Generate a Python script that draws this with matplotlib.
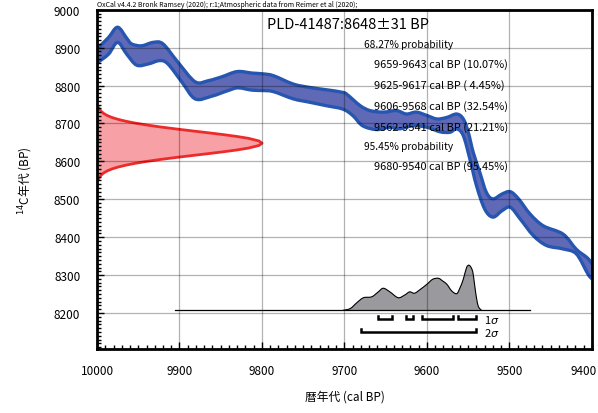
import numpy as np
import matplotlib
matplotlib.use('Agg')
import matplotlib.pyplot as plt
from matplotlib.ticker import MultipleLocator
from matplotlib.path import Path
from matplotlib.patches import PathPatch
from matplotlib.transforms import ScaledTranslation

plt.rcParams['font.family'] = ['Noto Sans CJK JP', 'DejaVu Sans']

# calibration curve (IntCal20), upper and lower edges of the band
up_yr = [10000, 9998, 9986, 9975, 9964, 9958, 9946, 9932, 9920, 9902,
         9881, 9865, 9849, 9830, 9812, 9799, 9786, 9762, 9742, 9722,
         9702, 9696, 9681, 9669, 9653, 9637, 9625, 9613, 9600, 9588,
         9576, 9564, 9556, 9550, 9544, 9536, 9528, 9520, 9509, 9499,
         9489, 9475, 9459, 9435, 9419, 9406, 9400]
up_c14 = [8897, 8901, 8927, 8954, 8925, 8910, 8905, 8914, 8910, 8862,
          8810, 8813, 8823, 8837, 8833, 8831, 8826, 8804, 8795, 8789,
          8782, 8775, 8747, 8734, 8730, 8734, 8725, 8730, 8721, 8712,
          8716, 8725, 8712, 8677, 8624, 8571, 8518, 8501, 8514, 8520,
          8501, 8461, 8430, 8408, 8368, 8346, 8330]
lo_yr = [10000, 9999, 9986, 9975, 9964, 9952, 9938, 9924, 9914, 9897,
         9881, 9861, 9841, 9829, 9812, 9799, 9786, 9762, 9742, 9722,
         9702, 9690, 9678, 9661, 9645, 9633, 9617, 9600, 9584, 9572,
         9564, 9556, 9548, 9540, 9530, 9520, 9509, 9499, 9487, 9471,
         9455, 9435, 9419, 9405, 9400]
lo_c14 = [8858, 8861, 8883, 8914, 8883, 8854, 8857, 8866, 8857, 8809,
          8765, 8772, 8787, 8794, 8788, 8787, 8784, 8765, 8756, 8747,
          8738, 8721, 8694, 8684, 8690, 8686, 8694, 8690, 8678, 8677,
          8686, 8668, 8606, 8536, 8474, 8453, 8470, 8479, 8448, 8404,
          8378, 8369, 8356, 8303, 8290]

# measured 14C age distribution (8648 +- 31 BP), width in cal years
gauss_c14 = [8555, 8560, 8565, 8570, 8575, 8580, 8585, 8590, 8595, 8600,
             8605, 8610, 8615, 8620, 8625, 8630, 8635, 8642, 8648, 8654,
             8661, 8666, 8671, 8676, 8681, 8686, 8691, 8696, 8701, 8706,
             8711, 8716, 8721, 8726, 8731, 8736, 8741]
gauss_w = [2.2, 3.6, 5.6, 8.4, 12.5, 18.0, 25.4, 34.8, 46.4, 60.3,
           76.4, 94.4, 113.4, 133, 151.9, 169, 183.2, 196.3, 200, 196.3,
           183.2, 169, 151.9, 133, 113.4, 94.4, 76.4, 60.3, 46.4, 34.8,
           25.4, 18.0, 12.5, 8.4, 5.6, 3.6, 2.2]

# calibrated probability distribution
dist_yr = [9702, 9693, 9685, 9677, 9667, 9659, 9653, 9645, 9635, 9627,
           9621, 9615, 9607, 9600, 9593, 9586, 9581, 9576, 9570, 9564,
           9560, 9556, 9552, 9549, 9546, 9544, 9541, 9538, 9534]
dist_p = [0, 0.04, 0.17, 0.28, 0.30, 0.41, 0.49, 0.41, 0.28, 0.34,
          0.41, 0.38, 0.48, 0.58, 0.69, 0.71, 0.65, 0.58, 0.43, 0.37,
          0.50, 0.69, 0.95, 1.0, 0.93, 0.80, 0.39, 0.10, 0]
dist_base = 8207
dist_span = (9905, 9475)

ranges_1s = [(9659, 9643), (9625, 9617), (9606, 9568), (9562, 9541)]
ranges_2s = [(9680, 9540)]

title = 'PLD-41487:8648±31 BP'
info_lines = ['68.27% probability',
              '9659-9643 cal BP (10.07%)',
              '9625-9617 cal BP ( 4.45%)',
              '9606-9568 cal BP (32.54%)',
              '9562-9541 cal BP (21.21%)',
              '95.45% probability',
              '9680-9540 cal BP (95.45%)']


def smooth_path(xs, ys):
    # Catmull-Rom through the points, as cubic bezier segments
    p = np.column_stack([xs, ys]).astype(float)
    verts = [p[0]]
    codes = [Path.MOVETO]
    n = len(p)
    for i in range(n - 1):
        p0 = p[max(i - 1, 0)]
        p1 = p[i]
        p2 = p[i + 1]
        p3 = p[min(i + 2, n - 1)]
        verts += [p1 + (p2 - p0) / 6, p2 - (p3 - p1) / 6, p2]
        codes += [Path.CURVE4] * 3
    return verts, codes


fig = plt.figure(figsize=(5.98, 4.14), dpi=100)
ax = fig.add_axes([97/598, 1-350/414, 495/598, 339.2/414])

# calibration band
v_up, c_up = smooth_path(up_yr, up_c14)
v_lo, c_lo = smooth_path(lo_yr[::-1], lo_c14[::-1])
c_lo[0] = Path.LINETO
band = Path(v_up + v_lo + [v_up[0]], c_up + c_lo + [Path.CLOSEPOLY])
ax.add_patch(PathPatch(band, facecolor='#5f69b6', lw=0, zorder=1))
v, c = smooth_path(up_yr, up_c14)
ax.add_patch(PathPatch(Path(v, c), facecolor='none', edgecolor='#2756b0',
                       lw=2.4, zorder=2, joinstyle='round'))
v, c = smooth_path(lo_yr, lo_c14)
ax.add_patch(PathPatch(Path(v, c), facecolor='none', edgecolor='#2756b0',
                       lw=2.4, zorder=2, joinstyle='round'))

# measured age (red)
gx = 10000 - np.array(gauss_w)
ax.fill_betweenx(gauss_c14, 10000, gx, color='#f7a1a6', zorder=1, lw=0)
ax.plot(gx, gauss_c14, color='#ee2a2a', lw=2, zorder=2)

# calibrated distribution (grey)
ax.plot(dist_span, [dist_base, dist_base], color='black', lw=0.9, zorder=2)
dy = dist_base + np.array(dist_p) * 119
v, c = smooth_path(dist_yr, dy)
dv = v + [(dist_yr[0], dist_base)]
dc = c + [Path.CLOSEPOLY]
ax.add_patch(PathPatch(Path(dv, dc), facecolor='#9a9a9e', lw=0, zorder=1))
ax.add_patch(PathPatch(Path(v, c), facecolor='none', edgecolor='black',
                       lw=0.8, zorder=2))

# range brackets
def bracket(x0, x1, y):
    ax.plot([x0, x0, x1, x1], [y + 8, y, y, y + 8], color='black', lw=1.8,
            zorder=3, solid_joinstyle='miter')

for r in ranges_1s:
    bracket(r[0], r[1], 8184)
for r in ranges_2s:
    bracket(r[0], r[1], 8151)
ax.text(9531, 8184, '1$\\sigma$', fontsize=8, va='center', ha='left')
ax.text(9531, 8151, '2$\\sigma$', fontsize=8, va='center', ha='left')

# texts
ax.text(9794, 8963, title, fontsize=10.5, va='center', ha='left', zorder=4)
info_x = [9676, 9664, 9664, 9664, 9664, 9676, 9664]
info_y = [8910, 8859, 8802, 8747, 8693, 8641, 8589]
info_fs = [7.3, 7.9, 7.9, 7.9, 7.9, 7.3, 7.9]
for s, x, y, fs in zip(info_lines, info_x, info_y, info_fs):
    ax.text(x, y, s, fontsize=fs, va='center', ha='left', zorder=4)

fig.text(97/598, 1-5/414,
         'OxCal v4.4.2 Bronk Ramsey (2020); r:1;Atmospheric data from Reimer et al (2020);',
         fontsize=5.0, va='center', ha='left')

ax.set_xlim(10000, 9400)
ax.set_ylim(8105, 9000)
ax.xaxis.set_major_locator(MultipleLocator(100))
ax.xaxis.set_minor_locator(MultipleLocator(10))
ax.yaxis.set_major_locator(MultipleLocator(100))
ax.yaxis.set_minor_locator(MultipleLocator(10))
ax.set_yticks(np.arange(8200, 9001, 100))
ax.set_xticks(np.arange(10000, 9399, -100))
ax.tick_params(which='both', direction='in', width=1, labelsize=8.5)
ax.tick_params(which='major', length=5)
ax.tick_params(which='minor', length=3)
ax.tick_params(axis='x', pad=11)
ax.tick_params(axis='y', pad=12)
ax.set_axisbelow(False)
ax.grid(True, which='major', color='black', alpha=0.3, lw=0.9)
for sp in ax.spines.values():
    sp.set_linewidth(2)

last = ax.get_xticklabels()[-1]
last.set_horizontalalignment('right')
last.set_transform(last.get_transform() + ScaledTranslation(0.05, 0, fig.dpi_scale_trans))

ax.set_xlabel('暦年代 (cal BP)', fontsize=8.5, labelpad=9)
ax.set_ylabel('$^{14}$C年代 (BP)', fontsize=8.5, labelpad=14)

fig.savefig('out.png', dpi=100)
